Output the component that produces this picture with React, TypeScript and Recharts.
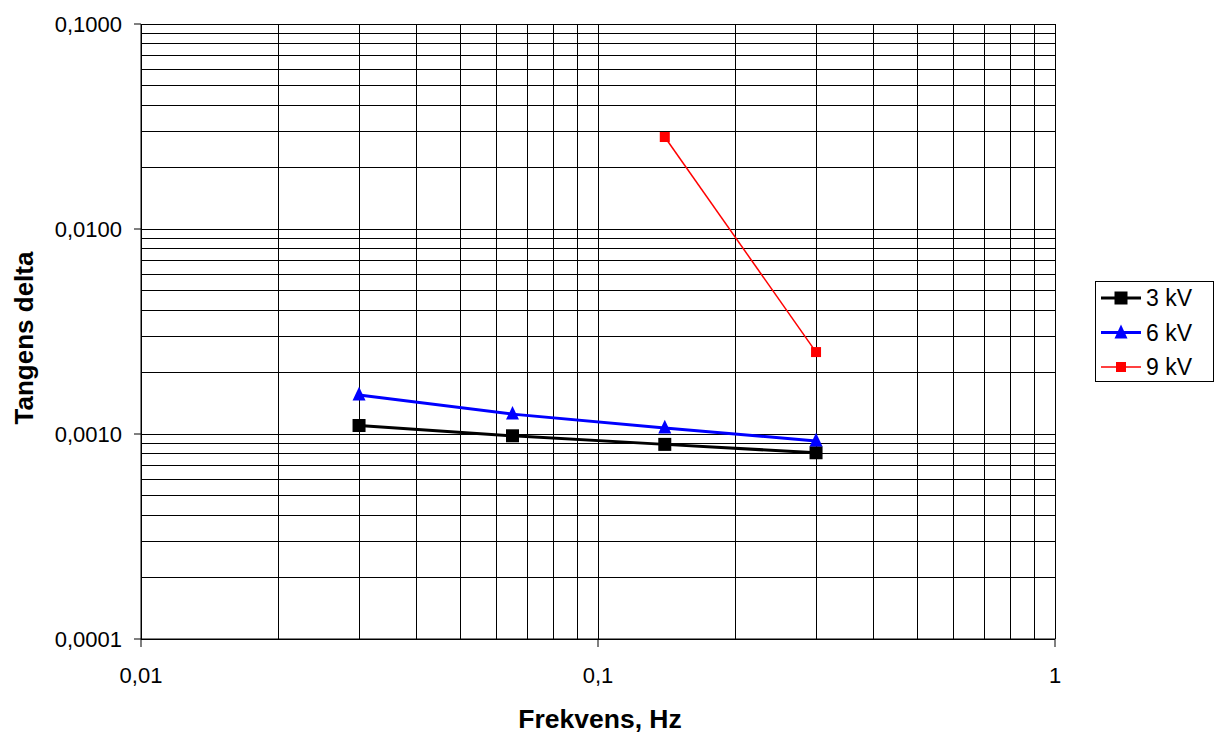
import { CartesianGrid, Label, Legend, Line, LineChart, XAxis, YAxis } from 'recharts';

// frequency, Hz
const freqs = [0.03, 0.065, 0.14, 0.3];
// tan delta per test voltage
const kv3 = [0.0011, 0.00098, 0.00089, 0.00081];
const kv6 = [0.00155, 0.00125, 0.00107, 0.000925];
const kv9 = [null, null, 0.0281, 0.00251];

const xTicks = [
  0.01, 0.02, 0.03, 0.04, 0.05, 0.06, 0.07, 0.08, 0.09,
  0.1, 0.2, 0.3, 0.4, 0.5, 0.6, 0.7, 0.8, 0.9, 1,
];
const yTicks = [
  0.0001, 0.0002, 0.0003, 0.0004, 0.0005, 0.0006, 0.0007, 0.0008, 0.0009,
  0.001, 0.002, 0.003, 0.004, 0.005, 0.006, 0.007, 0.008, 0.009,
  0.01, 0.02, 0.03, 0.04, 0.05, 0.06, 0.07, 0.08, 0.09, 0.1,
];
const xDecades = [0.01, 0.1, 1];
const xDecadeLabels = ['0,01', '0,1', '1'];
const yDecades = [0.0001, 0.001, 0.01, 0.1];
const yDecadeLabels = ['0,0001', '0,0010', '0,0100', '0,1000'];

const seriesNames = ['3 kV', '6 kV', '9 kV'];

const data = freqs.map((f, i) => ({ f, kv3: kv3[i], kv6: kv6[i], kv9: kv9[i] }));

const font = 'Liberation Sans, Arial, sans-serif';

const findLabel = (vals: number[], labels: string[], v: number) => {
  const i = vals.findIndex((d) => Math.abs(d - v) < d * 1e-6);
  return i < 0 ? null : labels[i];
};

const XTick = (p: any) => {
  const lbl = findLabel(xDecades, xDecadeLabels, p.payload.value);
  if (!lbl) return <g />;
  return (
    <g>
      <line x1={p.x} y1={p.y - 8} x2={p.x} y2={p.y} stroke="#000" />
      <text x={p.x} y={p.y} dy={36} textAnchor="middle" fontSize={22} fontFamily={font} fill="#000">
        {lbl}
      </text>
    </g>
  );
};

const YTick = (p: any) => {
  const lbl = findLabel(yDecades, yDecadeLabels, p.payload.value);
  if (!lbl) return <g />;
  return (
    <g>
      <line x1={p.x} y1={p.y} x2={p.x + 7} y2={p.y} stroke="#000" />
      <text x={p.x - 12} y={p.y} dy={8} textAnchor="end" fontSize={22} fontFamily={font} fill="#000">
        {lbl}
      </text>
    </g>
  );
};

const squareDot = (size: number, fill: string) => (p: any) => {
  if (p.cx == null || p.cy == null || p.value == null) return <g key={p.key ?? p.index} />;
  return <rect key={p.key ?? p.index} x={p.cx - size / 2} y={p.cy - size / 2} width={size} height={size} fill={fill} />;
};

const triangleDot = (size: number, fill: string) => (p: any) => {
  if (p.cx == null || p.cy == null) return <g key={p.key ?? p.index} />;
  const h = size * 1.05;
  return (
    <polygon
      key={p.key ?? p.index}
      points={`${p.cx},${p.cy - h * 0.6} ${p.cx - size / 2},${p.cy + h * 0.4} ${p.cx + size / 2},${p.cy + h * 0.4}`}
      fill={fill}
    />
  );
};

const LegendBox = () => {
  const rows = [
    { name: seriesNames[0], color: '#000', width: 3, marker: 'sq', size: 13 },
    { name: seriesNames[1], color: '#0000ff', width: 3, marker: 'tri', size: 13 },
    { name: seriesNames[2], color: '#ff0000', width: 1.5, marker: 'sq', size: 10 },
  ];
  return (
    <svg width={120} height={102} style={{ display: 'block' }}>
      <rect x={0.5} y={0.5} width={118} height={100} fill="#fff" stroke="#000" />
      {rows.map((r, i) => {
        const cy = 17 + i * 34.5;
        return (
          <g key={r.name}>
            <line x1={6} y1={cy} x2={46} y2={cy} stroke={r.color} strokeWidth={r.width} />
            {r.marker === 'sq' ? (
              <rect x={26 - r.size / 2} y={cy - r.size / 2} width={r.size} height={r.size} fill={r.color} />
            ) : (
              <polygon points={`26,${cy - 8} ${26 - 6.5},${cy + 6} ${26 + 6.5},${cy + 6}`} fill={r.color} />
            )}
            <text x={51} y={cy + 8} fontSize={23} fontFamily={font} fill="#000">
              {r.name}
            </text>
          </g>
        );
      })}
    </svg>
  );
};

export default function App() {
  return (
    <div style={{ position: 'absolute', left: 0, top: 0, background: '#fff' }}>
      <style>{'.recharts-cartesian-grid line { shape-rendering: crispEdges; }'}</style>
      <LineChart width={1216} height={733} data={data} margin={{ top: 24, right: 161, bottom: 0, left: 0 }}>
        <CartesianGrid stroke="#000" strokeWidth={1} />
        <XAxis
          dataKey="f"
          type="number"
          scale="log"
          domain={[0.01, 1]}
          ticks={xTicks}
          interval={0}
          allowDataOverflow
          height={94}
          tickSize={8}
          tickMargin={0}
          tickLine={false}
          tick={XTick}
          axisLine={{ stroke: '#000' }}
        >
          <Label
            content={(p: any) => (
              <text
                x={p.viewBox.x + p.viewBox.width / 2 + 2}
                y={728}
                textAnchor="middle"
                fontSize={26.5}
                fontWeight="bold"
                fontFamily={font}
                fill="#000"
              >
                Frekvens, Hz
              </text>
            )}
          />
        </XAxis>
        <YAxis
          type="number"
          scale="log"
          domain={[0.0001, 0.1]}
          ticks={yTicks}
          interval={0}
          allowDataOverflow
          width={141}
          tickSize={7}
          tickMargin={0}
          tickLine={false}
          tick={YTick}
          axisLine={{ stroke: '#000' }}
        >
          <Label
            content={() => (
              <text
                x={0}
                y={0}
                transform="translate(33, 338) rotate(-90)"
                textAnchor="middle"
                fontSize={26}
                fontWeight="bold"
                fontFamily={font}
                fill="#000"
              >
                Tangens delta
              </text>
            )}
          />
        </YAxis>
        <Legend
          layout="vertical"
          align="center"
          verticalAlign="middle"
          content={LegendBox}
          wrapperStyle={{ left: 1095, top: 281, width: 120, height: 102 }}
        />
        <Line
          dataKey="kv3"
          name={seriesNames[0]}
          stroke="#000"
          strokeWidth={3}
          dot={squareDot(13, '#000')}
          activeDot={false}
          isAnimationActive={false}
        />
        <Line
          dataKey="kv6"
          name={seriesNames[1]}
          stroke="#0000ff"
          strokeWidth={3}
          dot={triangleDot(13, '#0000ff')}
          activeDot={false}
          isAnimationActive={false}
        />
        <Line
          dataKey="kv9"
          name={seriesNames[2]}
          stroke="#ff0000"
          strokeWidth={1.5}
          dot={squareDot(10, '#ff0000')}
          activeDot={false}
          isAnimationActive={false}
        />
      </LineChart>
    </div>
  );
}
